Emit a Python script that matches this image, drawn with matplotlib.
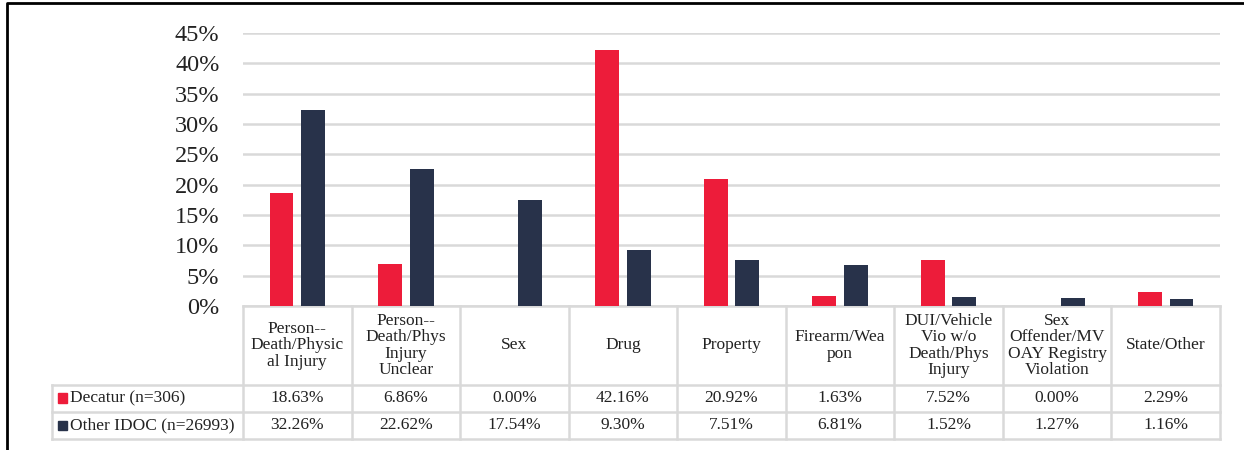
import matplotlib.pyplot as plt
from matplotlib.lines import Line2D
from matplotlib.patches import Rectangle

plt.rcParams['font.family'] = ['Liberation Serif', 'DejaVu Serif']

# --- dados ---
categorias = ['Person--\nDeath/Physic\nal Injury', 'Person--\nDeath/Phys\nInjury\nUnclear',
              'Sex', 'Drug', 'Property', 'Firearm/Wea\npon',
              'DUI/Vehicle\nVio w/o\nDeath/Phys\nInjury',
              'Sex\nOffender/MV\nOAY Registry\nViolation', 'State/Other']
decatur = [18.63, 6.86, 0.00, 42.16, 20.92, 1.63, 7.52, 0.00, 2.29]
outros = [32.26, 22.62, 17.54, 9.30, 7.51, 6.81, 1.52, 1.27, 1.16]
series = ['Decatur (n=306)', 'Other IDOC (n=26993)']
cores = ['#ED1C3A', '#28324A']
yticks = [0, 5, 10, 15, 20, 25, 30, 35, 40, 45]

W, H = 1244, 450
fig = plt.figure(figsize=(W / 100, H / 100), dpi=100)
ax = fig.add_axes([243 / W, 1 - 306 / H, (1220 - 243) / W, (306 - 33) / H])

x = list(range(len(categorias)))
ax.bar([i - 0.145 for i in x], decatur, width=0.22, color=cores[0], zorder=3)
ax.bar([i + 0.145 for i in x], outros, width=0.22, color=cores[1], zorder=3)

ax.set_xlim(-0.5, len(categorias) - 0.5)
ax.set_ylim(0, 45)
ax.set_yticks(yticks)
ax.set_yticklabels([f'{v}%' for v in yticks], fontsize=17.5, color='#222222')
ax.tick_params(axis='y', length=0, pad=17)
ax.set_xticks([])
ax.grid(axis='y', color='#D9D9D9', linewidth=1.8, zorder=0)
for s in ax.spines.values():
    s.set_visible(False)

# --- tabela de dados ---
tr = ax.get_xaxis_transform()
cor_linha = '#D9D9D9'
y_cab = -0.289   # fim do cabeçalho
y_l1 = -0.388
y_l2 = -0.487
x_leg = -2.26
n = len(categorias)
fs = 12.5

def linha(xs, ys):
    ax.add_line(Line2D(xs, ys, transform=tr, color=cor_linha, lw=1.8, clip_on=False))

linha([-0.5, n - 0.5], [0, 0])
linha([x_leg, n - 0.5], [y_cab, y_cab])
linha([x_leg, n - 0.5], [y_l1, y_l1])
linha([x_leg, n - 0.5], [y_l2, y_l2])
for i in range(n + 1):
    linha([i - 0.5, i - 0.5], [0, y_l2])
linha([x_leg, x_leg], [y_cab, y_l2])

for i, cat in enumerate(categorias):
    ax.text(i, y_cab / 2, cat, transform=tr, ha='center', va='center',
            fontsize=fs, linespacing=1.05, color='#222222', clip_on=False)
    ax.text(i, (y_cab + y_l1) / 2, f'{decatur[i]:.2f}%', transform=tr,
            ha='center', va='center', fontsize=fs, color='#222222')
    ax.text(i, (y_l1 + y_l2) / 2, f'{outros[i]:.2f}%', transform=tr,
            ha='center', va='center', fontsize=fs, color='#222222')

for j, (nome, cor) in enumerate(zip(series, cores)):
    yc = [(y_cab + y_l1) / 2, (y_l1 + y_l2) / 2][j]
    ax.add_patch(Rectangle((x_leg + 0.055, yc - 0.016), 0.083, 0.034, transform=tr,
                           color=cor, clip_on=False))
    ax.text(x_leg + 0.165, yc, nome, transform=tr, ha='left', va='center',
            fontsize=fs, color='#222222')

# moldura (esquerda e topo)
fig.add_artist(Line2D([7 / W, 7 / W, 1], [0, 1 - 3 / H, 1 - 3 / H],
                      transform=fig.transFigure, color='black', lw=2))

plt.savefig('out.png', dpi=100)
